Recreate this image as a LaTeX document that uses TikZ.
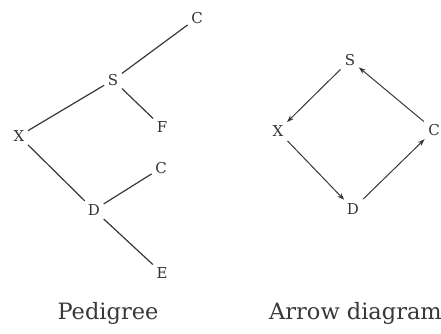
\documentclass[tikz,border=0pt]{standalone}
\usepackage{fontspec}
\setmainfont{DejaVu Serif}
\usetikzlibrary{arrows.meta}
\begin{document}
\begin{tikzpicture}[x=1pt,y=-1pt,
  lbl/.style={font=\fontsize{15}{17}\selectfont, text=black!80, inner sep=3.5pt},
  captext/.style={font=\fontsize{22.5}{26}\selectfont, text=black!78, inner sep=0pt},
  link/.style={draw=black!78, line width=1.2pt},
  arr/.style={draw=black!78, line width=1pt, -{Stealth[length=7pt,width=5pt]}, shorten <=1pt, shorten >=0pt}]
\useasboundingbox (0,0) rectangle (441,333);
% Pedigree
\node[lbl] (pc1) at (197,18) {C};
\node[lbl] (ps) at (113,80) {S};
\node[lbl] (pf) at (162,127) {F};
\node[lbl] (px) at (19,136) {X};
\node[lbl] (pc2) at (161,168) {C};
\node[lbl] (pd) at (94,210) {D};
\node[lbl] (pe) at (162,273) {E};
\draw[link] (ps) -- (pc1);
\draw[link] (ps) -- (pf);
\draw[link] (px) -- (ps);
\draw[link] (px) -- (pd);
\draw[link] (pd) -- (pc2);
\draw[link] (pd) -- (pe);
\node[captext] (pcap) at (108,313) {Pedigree};
% Arrow diagram
\node[lbl] (as) at (350,60) {S};
\node[lbl] (ax) at (278,131) {X};
\node[lbl] (ac) at (434,130) {C};
\node[lbl] (ad) at (353,209) {D};
\draw[arr] (as) -- (ax);
\draw[arr] (ax) -- (ad);
\draw[arr] (ad) -- (ac);
\draw[arr] (ac) -- (as);
\node[captext, anchor=west] (acap) at (269,313) {Arrow diagram};
\end{tikzpicture}
\end{document}
